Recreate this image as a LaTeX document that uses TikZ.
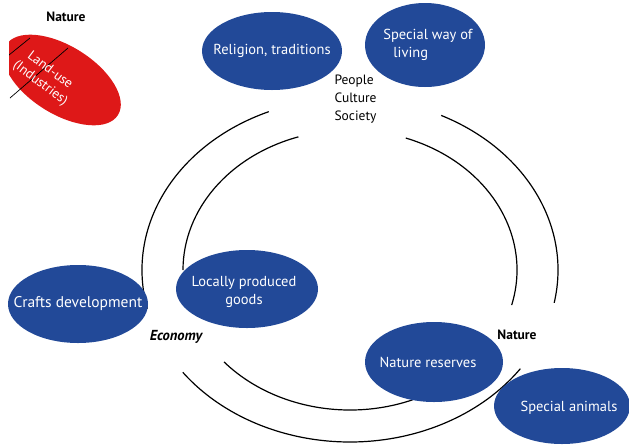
\documentclass[tikz,border=0pt]{standalone}
\usepackage{fontspec}
\setmainfont{PT Sans}
\usetikzlibrary{shapes.geometric}
\definecolor{blobblue}{RGB}{34,73,152}
\definecolor{blobred}{RGB}{222,24,24}

\begin{document}
\begin{tikzpicture}[x=1pt, y=1pt,
    blob/.style={ellipse, fill=blobblue, inner sep=0pt},
    inblob/.style={text=white, font=\fontsize{14.5}{18}\selectfont, align=center, inner sep=0pt},
    tag/.style={text=black, font=\fontsize{13.5}{18}\selectfont},
    ring/.style={line width=1.2pt}]
  \useasboundingbox (0,0) rectangle (629,-445);

  % the rings
  \coordinate (hub) at (350,-270);
  \draw[ring] (hub) ++(113:208pt and 172pt) arc[start angle=113, end angle=193, x radius=208pt, y radius=172pt];
  \draw[ring] (hub) ++(64:208pt and 172pt) arc[start angle=64, end angle=-11, x radius=208pt, y radius=172pt];
  \draw[ring] (hub) ++(216.5:208pt and 172pt) arc[start angle=216.5, end angle=325, x radius=208pt, y radius=172pt];
  \draw[ring] (hub) ++(108:167pt and 140pt) arc[start angle=108, end angle=180, x radius=167pt, y radius=140pt];
  \draw[ring] (hub) ++(70.5:167pt and 140pt) arc[start angle=70.5, end angle=-14.5, x radius=167pt, y radius=140pt];
  \draw[ring] (hub) ++(221:167pt and 140pt) arc[start angle=221, end angle=292, x radius=167pt, y radius=140pt];

  % red land-use blob
  \begin{scope}
    \clip (9,0) rectangle (629,-445);
    \node[ellipse, fill=blobred, minimum width=132pt, minimum height=68pt, rotate=-32] (landuse) at (62,-80) {};
    \draw[line width=0.7pt] (9,-55) -- (30,-38);
    \draw[line width=0.7pt] (10,-98) -- (68,-48);
  \end{scope}
  \node[inblob, font=\fontsize{13.5}{16}\selectfont, rotate=-37] (landusetxt) at (45,-77) {Land-use\\(Industries)};

  \node[blob, minimum width=140pt, minimum height=78pt, label={[inblob]center:{Religion, traditions}}] (religion) at (272,-51) {};
  \node[blob, minimum width=120pt, minimum height=84pt] (way) at (425,-45) {};
  \node[inblob, align=left] (waytxt) at (428,-45) {Special way of\\\hspace*{10pt}living};
  \node[blob, minimum width=140pt, minimum height=78pt, label={[inblob, font=\fontsize{15.5}{18}\selectfont]center:Crafts development}] (crafts) at (78,-304) {};
  \node[blob, minimum width=142pt, minimum height=78pt] (goods) at (247,-289) {};
  \node[inblob] (goodstxt) at (244,-292) {Locally produced\\goods};
  \node[blob, minimum width=138pt, minimum height=80pt] (reserves) at (434,-362) {};
  \node[inblob] (reservestxt) at (428,-362) {Nature reserves};
  \node[blob, minimum width=136pt, minimum height=76pt] (animals) at (562,-406) {};
  \node[inblob] (animalstxt) at (569,-408) {Special animals};

  \node[tag, font=\fontsize{13.5}{16}\selectfont\bfseries] (naturetop) at (66,-17) {Nature};
  \node[tag, align=left, anchor=west] (people) at (331,-99) {People\\Culture\\Society};
  \node[tag, font=\fontsize{14.5}{16}\selectfont\bfseries\itshape] (economy) at (176,-337) {Economy};
  \node[tag, font=\fontsize{13.5}{16}\selectfont\bfseries] (nature) at (517,-335) {Nature};
\end{tikzpicture}
\end{document}
